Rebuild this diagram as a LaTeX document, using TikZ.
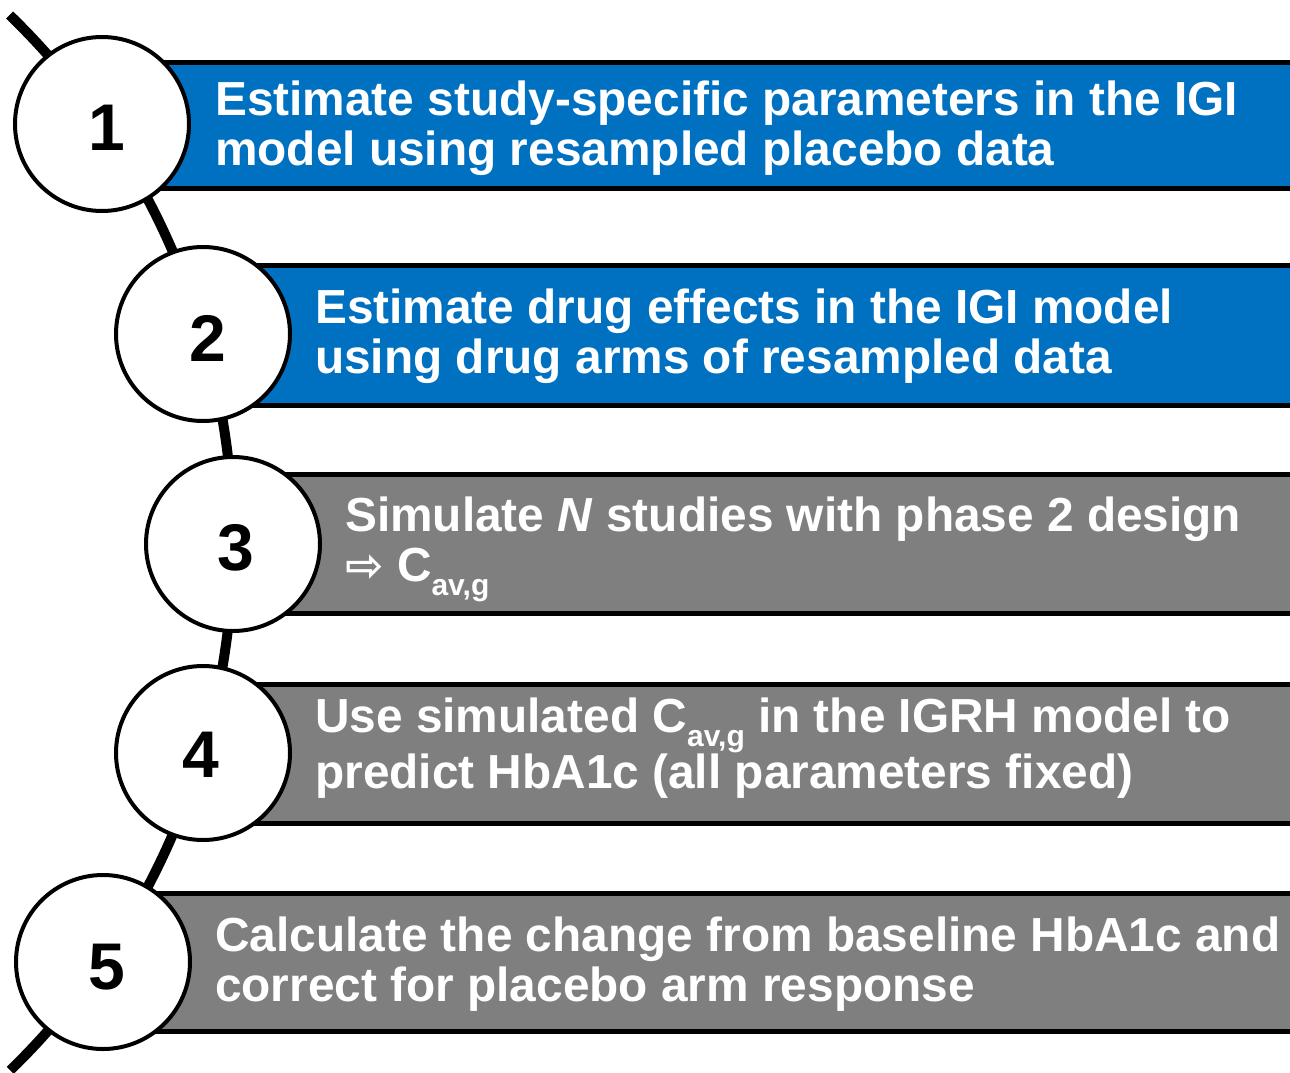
\documentclass[tikz,border=0pt]{standalone}
\usepackage{fontspec}
\setmainfont{Liberation Sans}
\newfontfamily\arrowfont{DejaVu Sans}
\definecolor{barblue}{HTML}{0070C0}
\definecolor{bargray}{HTML}{7F7F7F}
\newcommand{\subav}{\raisebox{-14pt}{\fontsize{30}{30}\selectfont av,g}}
\begin{document}
\begin{tikzpicture}[x=1pt,y=-1pt,
  stepcircle/.style={circle, draw=black, line width=4pt, fill=white, minimum size=174pt, inner sep=0pt},
  stepnum/.style={inner sep=0pt, font=\fontsize{66}{66}\selectfont\bfseries},
  steptext/.style={anchor=base west, align=left, text=white, font=\fontsize{47.8}{49.5}\selectfont\bfseries, inner sep=0pt},
  bandline/.style={line width=5pt, draw=black}]
\useasboundingbox (0,0) rectangle (1290,1073);
% connector arc through the circle centres
\coordinate (top) at (9.6,15);
\draw[line width=10pt] (top) arc[start angle=45.87, end angle=-45.8, radius=735.6pt] coordinate (bot);
% bars
\fill[barblue] (102,62.5) rectangle (1290,188);
\draw[bandline] (102,62.5) -- (1295,62.5) (102,188) -- (1295,188);
\fill[barblue] (203,265) rectangle (1290,405);
\draw[bandline] (203,265) -- (1295,265) (203,405) -- (1295,405);
\fill[bargray] (233,474.5) rectangle (1290,613);
\draw[bandline] (233,474.5) -- (1295,474.5) (233,613) -- (1295,613);
\fill[bargray] (203,684.5) rectangle (1290,823);
\draw[bandline] (203,684.5) -- (1295,684.5) (203,823) -- (1295,823);
\fill[bargray] (102,893) rectangle (1290,1031.5);
\draw[bandline] (102,893) -- (1295,893) (102,1031.5) -- (1295,1031.5);
% circles
\node[stepcircle] (c1) at (102,124) {};
\node[stepcircle] (c2) at (203,334) {};
\node[stepcircle] (c3) at (233,544) {};
\node[stepcircle] (c4) at (203,753) {};
\node[stepcircle] (c5) at (103,962) {};
\node[stepnum] (n1) at ([shift={(5,4)}]c1.center) {1};
\node[stepnum] (n2) at ([shift={(5,4)}]c2.center) {2};
\node[stepnum] (n3) at ([shift={(3,4)}]c3.center) {3};
\node[stepnum] (n4) at ([shift={(-2,2)}]c4.center) {4};
\node[stepnum] (n5) at ([shift={(4,5)}]c5.center) {5};
% texts (anchor at baseline of the last line)
\node[steptext] (t1) at (215,165) {Estimate study-specific parameters in the IGI\\model using resampled placebo data};
\node[steptext] (t2) at (315,373) {Estimate drug effects in the IGI model\\using drug arms of resampled data};
\node[steptext] (t3) at (345,581) {Simulate \textit{N} studies with phase 2 design\\{\arrowfont\fontsize{46}{46}\selectfont ⇨} C\subav};
\node[steptext] (t4) at (315,788) {Use simulated C\subav{} in the IGRH model to\\predict HbA1c (all parameters fixed)};
\node[steptext] (t5) at (215,1001) {Calculate the change from baseline HbA1c and\\correct for placebo arm response};
\end{tikzpicture}
\end{document}
